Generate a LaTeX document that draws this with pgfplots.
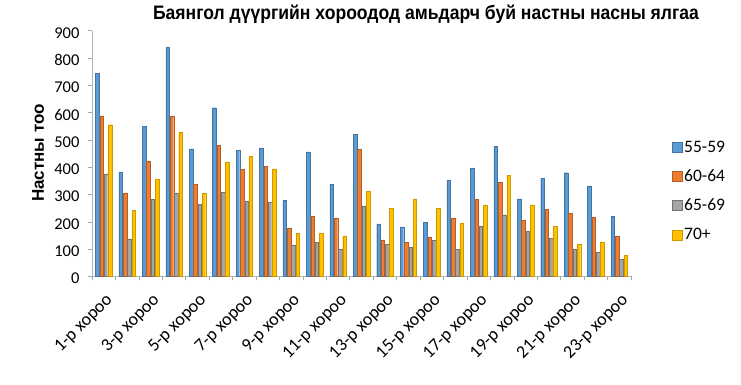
\documentclass[border=0pt]{standalone}
\usepackage{fontspec}
\setmainfont{Carlito}
\newfontfamily\titlefont[FakeStretch=0.9]{Liberation Sans}
\newfontfamily\labfont{Liberation Sans}
\usepackage{pgfplots}
\usepackage{pgfplotstable}
\pgfplotsset{compat=1.18}
\definecolor{cA}{HTML}{5B9BD5}
\definecolor{cB}{HTML}{ED7D31}
\definecolor{cC}{HTML}{A5A5A5}
\definecolor{cD}{HTML}{FFC000}
\pgfplotstableread{
x a b c d
1 744 588 376 556
2 382 306 138 243
3 549 423 283 357
4 840 587 306 530
5 467 338 265 304
6 618 480 309 420
7 462 392 277 439
8 471 404 271 394
9 279 177 116 158
10 456 222 126 157
11 338 215 100 146
12 520 465 259 312
13 193 134 117 249
14 182 126 107 284
15 198 145 133 251
16 351 215 100 196
17 398 283 185 262
18 477 346 226 371
19 284 206 165 262
20 360 245 140 183
21 380 231 101 118
22 332 218 88 127
23 220 147 62 77
}\data
\begin{document}
\begin{tikzpicture}[x=1pt,y=1pt]
\useasboundingbox (0,0) rectangle (741,385);
\begin{axis}[
  at={(92pt,108.5pt)}, anchor=south west,
  scale only axis, width=539pt, height=245.8pt,
  xmin=0.5, xmax=23.5, ymin=0, ymax=900,
  ybar=0.7pt, bar width=3.6pt,
  ytick={0,100,...,900},
  xtick={1,3,...,23},
  xticklabels={1-р хороо,3-р хороо,5-р хороо,7-р хороо,9-р хороо,11-р хороо,13-р хороо,15-р хороо,17-р хороо,19-р хороо,21-р хороо,23-р хороо},
  minor xtick={0.5,1.5,...,23.5},
  major x tick style={draw=none},
  axis x line*=bottom, axis y line*=left,
  tick align=outside,
  x axis line style={gray!60, line width=1.6pt},
  y axis line style={gray!60, line width=0.8pt},
  tick style={gray!70, line width=0.6pt},
  major tick length=4pt, minor tick length=4pt,
  /pgf/number format/assume math mode=true,
  y tick label style={font=\fontsize{16.5}{19}\selectfont, xshift=-5pt, yshift=-2pt},
  x tick label style={xshift=1pt, yshift=-7pt, rotate=45, anchor=north east, font=\fontsize{18}{21}\selectfont},
  legend style={at={(1.07,0.348)}, anchor=west, draw=none, fill=none,
    font=\fontsize{17.5}{20}\selectfont, row sep=12pt, legend cell align=left},
  legend image code/.code={\fill[#1] (0pt,-5pt) rectangle (10pt,5pt);},
]
\addplot[fill=cA, draw=cA!75!black, line width=0.3pt] table[x=x,y=a]{\data};
\addplot[fill=cB, draw=cB!75!black, line width=0.3pt] table[x=x,y=b]{\data};
\addplot[fill=cC, draw=cC!70!black, line width=0.3pt] table[x=x,y=c]{\data};
\addplot[fill=cD, draw=cD!80!black, line width=0.3pt] table[x=x,y=d]{\data};
\legend{55-59,60-64,65-69,70+}
\end{axis}
\node[font=\titlefont\bfseries\fontsize{19.5}{22}\selectfont] at (426,371) {Баянгол дүүргийн хороодод амьдарч буй настны насны ялгаа};
\node[font=\labfont\bfseries\fontsize{17}{20}\selectfont, rotate=90] at (38,232) {Настны тоо};
\end{tikzpicture}
\end{document}
